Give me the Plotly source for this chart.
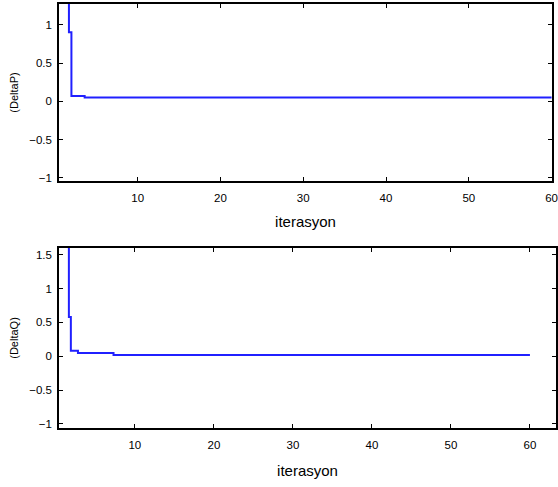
import plotly.graph_objects as go

# Top panel (DeltaP) path
p_x = [1.7, 1.7, 2.0, 2.0, 3.6, 3.6, 60]
p_y = [1.5, 0.9, 0.9, 0.07, 0.07, 0.05, 0.05]

# Bottom panel (DeltaQ) path
q_x = [1.65, 1.65, 1.9, 1.9, 2.8, 2.8, 7.3, 7.3, 60]
q_y = [1.8, 0.58, 0.58, 0.08, 0.08, 0.05, 0.05, 0.02, 0.02]

x_ticks = [10, 20, 30, 40, 50, 60]
p_yticks = [-1, -0.5, 0, 0.5, 1]
q_yticks = [-1, -0.5, 0, 0.5, 1, 1.5]

W, H = 558, 487
line_col = "#2020ff"
font = dict(family="Liberation Sans, Arial, sans-serif", size=11.5, color="black")
lab_font = dict(family="Liberation Sans, Arial, sans-serif", size=15, color="black")
ylab_font = dict(family="Liberation Sans, Arial, sans-serif", size=11, color="black")

fig = go.Figure()
fig.add_trace(go.Scatter(x=p_x, y=p_y, mode="lines", line=dict(color=line_col, width=2),
                         xaxis="x", yaxis="y", showlegend=False, cliponaxis=True))
fig.add_trace(go.Scatter(x=q_x, y=q_y, mode="lines", line=dict(color=line_col, width=2),
                         xaxis="x2", yaxis="y2", showlegend=False, cliponaxis=True))

ax = dict(showline=True, linecolor="black", linewidth=1.5, mirror="ticks", ticks="inside",
          ticklen=4, tickwidth=1.2, tickcolor="black", showgrid=False, zeroline=False,
          tickfont=font, automargin=False)

fig.update_layout(
    width=W, height=H, margin=dict(l=0, r=0, t=0, b=0),
    paper_bgcolor="white", plot_bgcolor="white",
    xaxis=dict(ax, domain=[59/W, 552/W], range=[0.5, 60.05], tickvals=x_ticks, anchor="y",
               ticklabelstandoff=5,
               title=dict(text="iterasyon", font=lab_font, standoff=14)),
    yaxis=dict(ax, domain=[1-181/H, 1-4/H], range=[-1.04, 1.27], tickvals=p_yticks, anchor="x",
               ticklabelstandoff=3,
               title=dict(text="(DeltaP)", font=ylab_font, standoff=8)),
    xaxis2=dict(ax, domain=[59/W, 556/W], range=[0.4, 63.3], tickvals=x_ticks, anchor="y2",
                ticklabelstandoff=5,
                title=dict(text="iterasyon", font=lab_font, standoff=16)),
    yaxis2=dict(ax, domain=[1-428/H, 1-248/H], range=[-1.06, 1.6], tickvals=q_yticks, anchor="x2",
                ticklabelstandoff=3,
                title=dict(text="(DeltaQ)", font=ylab_font, standoff=8)),
)

fig.write_html("out.html")
